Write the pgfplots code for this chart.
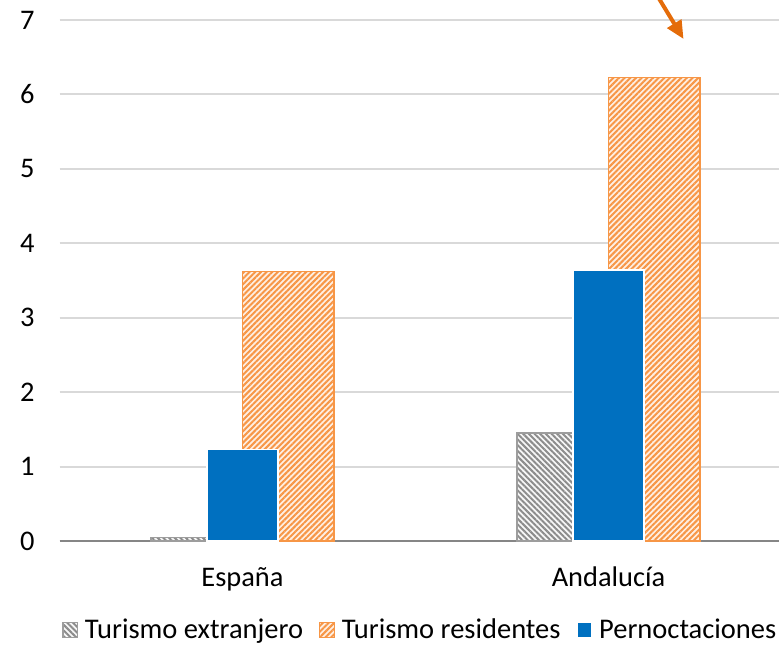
\documentclass[border=0pt]{standalone}
\usepackage{fontspec}
\setmainfont{Carlito}
\usepackage{pgfplots}
\pgfplotsset{compat=1.18}
\usetikzlibrary{patterns.meta,arrows.meta}
\definecolor{cblue}{HTML}{0070C0}
\definecolor{corange}{HTML}{F79646}
\definecolor{carrow}{HTML}{E46C0A}
\definecolor{cgray}{HTML}{8C8C8C}
\definecolor{cgrid}{HTML}{D9D9D9}
\definecolor{caxis}{HTML}{868686}
\begin{document}
\begin{tikzpicture}
\begin{axis}[
  scale only axis, width=366pt, height=260.5pt,
  xmin=-0.5, xmax=1.5, ymin=0, ymax=7,
  ytick={0,1,2,3,4,5,6,7}, xtick={0,1}, xticklabels={España,Andalucía},
  ymajorgrids, grid style={cgrid, line width=1pt},
  axis x line*=bottom, axis y line*=left,
  x axis line style={caxis, line width=1pt, -},
  y axis line style={draw=none},
  major tick length=0pt,
  tick label style={font=\fontsize{14.2}{17}\selectfont},
  /pgf/number format/assume math mode=true,
  yticklabel style={anchor=east, xshift=-9pt},
  xticklabel style={anchor=base, yshift=-22.5pt},
  clip=false,
  legend image code/.code={\draw[#1] (0pt,-3.6pt) rectangle (7.2pt,3.6pt);},
  legend columns=3,
  legend style={draw=none, fill=none, inner sep=0pt, at={(axis description cs:0.0034,-0.1708)}, anchor=west,
    font=\fontsize{14.25}{17}\selectfont,
    nodes={inner xsep=3.5pt},
    /tikz/every even column/.append style={column sep=4.5pt}},
]
\addplot[ybar, bar width=0.25, bar shift=-0.125, draw=cgray!85, line width=0.6pt, fill=gray!6,
  postaction={pattern={Lines[angle=-45,distance=2pt,line width=1pt]}, pattern color=cgray}]
  coordinates {(0,0.05) (1,1.45)};
\addplot[ybar, bar width=0.25, bar shift=0.125, draw=corange, line width=0.6pt, fill=corange!15!white,
  postaction={pattern={Lines[angle=45,distance=2pt,line width=1pt]}, pattern color=corange}]
  coordinates {(0,3.62) (1,6.23)};
\addplot[ybar, bar width=0.194, bar shift=0, draw=white, line width=0.6pt, fill=cblue]
  coordinates {(0,1.23) (1,3.64)};
\legend{Turismo extranjero, Turismo residentes, Pernoctaciones}
\coordinate (BL) at (rel axis cs:0,0);
\coordinate (TR) at (rel axis cs:1,1);
\draw[carrow, line width=2pt, -{Triangle[length=9pt,width=8pt]}] (axis cs:1.134,7.32) -- (axis cs:1.205,6.745);
\end{axis}
\pgfresetboundingbox
\useasboundingbox ([xshift=-29.75pt,yshift=-52.5pt]BL) rectangle ([xshift=-6.25pt,yshift=10pt]TR);
\end{tikzpicture}
\end{document}
